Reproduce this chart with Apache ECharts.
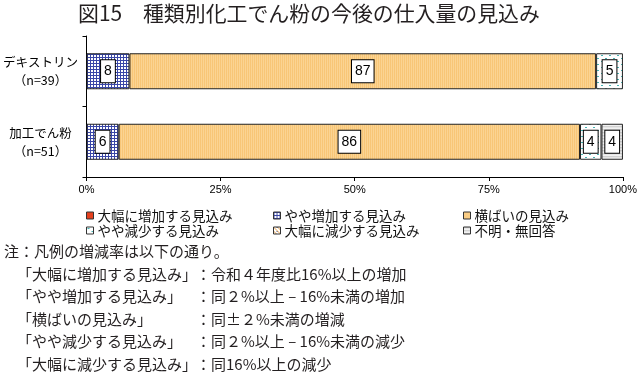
<!DOCTYPE html>
<html>
<head>
<meta charset="utf-8">
<script src="https://cdn.jsdelivr.net/npm/echarts@6/dist/echarts.min.js"></script>
<style>
html,body{margin:0;padding:0;background:#fff;}
#chart{width:640px;height:374px;}
</style>
</head>
<body>
<div id="chart"></div>
<script>
// ---- data ----
const titleText = '図15　種類別化工でん粉の今後の仕入量の見込み';
const categories = ['デキストリン', '加工でん粉'];
const sampleSizes = ['（n=39）', '（n=51）'];
const seriesNames = ['大幅に増加する見込み', 'やや増加する見込み', '横ばいの見込み', 'やや減少する見込み', '大幅に減少する見込み', '不明・無回答'];
const valsLargeIncrease = [0, 0];
const valsSlightIncrease = [8, 6];
const valsFlat = [87, 86];
const valsSlightDecrease = [5, 4];
const valsLargeDecrease = [0, 0];
const valsUnknown = [0, 4];
const xTickLabels = ['0%', '25%', '50%', '75%', '100%'];
const noteHeader = '注：凡例の増減率は以下の通り。';
const noteTerms = ['「大幅に増加する見込み」', '「やや増加する見込み」', '「横ばいの見込み」', '「やや減少する見込み」', '「大幅に減少する見込み」'];
const noteDefs = ['：令和４年度比16%以上の増加', '：同２%以上 – 16%未満の増加', '：同±２%未満の増減', '：同２%以上 – 16%未満の減少', '：同16%以上の減少'];

// ---- patterns ----
function pat(w, h, draw) {
  const c = document.createElement('canvas');
  c.width = w; c.height = h;
  const g = c.getContext('2d');
  draw(g);
  return { image: c, repeat: 'repeat' };
}
const fillRed = '#e5401e';
const fillBlueGrid = pat(3, 3, g => {
  g.fillStyle = '#ffffff'; g.fillRect(0, 0, 3, 3);
  g.fillStyle = '#3a47a8'; g.fillRect(0, 0, 3, 1); g.fillRect(0, 0, 1, 3);
});
const fillOrange = pat(2, 1, g => {
  g.fillStyle = '#f8c677'; g.fillRect(0, 0, 1, 1);
  g.fillStyle = '#fbd493'; g.fillRect(1, 0, 1, 1);
});
const fillTealDots = pat(8, 6, g => {
  g.fillStyle = '#ffffff'; g.fillRect(0, 0, 8, 6);
  g.fillStyle = '#48b4b4'; g.fillRect(1, 1, 2, 1); g.fillRect(5, 4, 2, 1);
});
const fillHatch = pat(4, 4, g => {
  g.fillStyle = '#ffffff'; g.fillRect(0, 0, 4, 4);
  g.fillStyle = '#e9a24a';
  for (let i = 0; i < 4; i++) g.fillRect(i, i, 1, 1);
  g.fillStyle = '#5a6fb0'; g.fillRect(3, 0, 1, 1);
});
const fillGray = pat(1, 3, g => {
  g.fillStyle = '#d2d2d2'; g.fillRect(0, 0, 1, 1);
  g.fillStyle = '#e6e6e6'; g.fillRect(0, 1, 1, 1);
  g.fillStyle = '#f2f2f2'; g.fillRect(0, 2, 1, 1);
});
const fills = [fillRed, fillBlueGrid, fillOrange, fillTealDots, fillHatch, fillGray];
const allVals = [valsLargeIncrease, valsSlightIncrease, valsFlat, valsSlightDecrease, valsLargeDecrease, valsUnknown];

const JP = "'Noto Sans CJK JP', sans-serif";
const NUM = "'Liberation Sans', Arial, sans-serif";

const series = seriesNames.map((name, i) => ({
  name: name,
  type: 'bar',
  stack: 'total',
  barWidth: 36,
  data: allVals[i].map(v => v === 0 ? '-' : v),
  itemStyle: { color: fills[i], borderColor: '#222', borderWidth: 1 },
  label: {
    show: true,
    position: 'inside',
    formatter: p => String(p.value),
    backgroundColor: '#fff',
    borderColor: '#000',
    borderWidth: 1,
    padding: [4, 3, 4, 3],
    lineHeight: 14,
    fontSize: 14,
    color: '#000',
    fontFamily: NUM
  },
  emphasis: { disabled: true }
}));

const legendCommon = {
  orient: 'vertical',
  itemWidth: 7,
  itemHeight: 7,
  itemGap: 0,
  icon: 'rect',
  padding: 0,
  itemStyle: { borderColor: '#333', borderWidth: 1 },
  textStyle: { fontSize: 13.5, lineHeight: 15, color: '#111', fontFamily: JP, padding: [0, 0, 0, -1] }
};

const graphics = [];
const noteY0 = 251.5;
const notePitch = 22.5;
graphics.push({ type: 'text', left: 4, top: noteY0 - 7.5, style: { text: noteHeader, font: '15px ' + JP, fill: '#231f20' } });
noteTerms.forEach((t, k) => {
  const y = noteY0 + notePitch * (k + 1) - 7.5;
  graphics.push({ type: 'text', left: 17, top: y, style: { text: t, font: '15px ' + JP, fill: '#231f20' } });
  graphics.push({ type: 'text', left: 196, top: y, style: { text: noteDefs[k], font: '15px ' + JP, fill: '#231f20' } });
});

const chart = echarts.init(document.getElementById('chart'), null, { renderer: 'canvas' });
chart.setOption({
  animation: false,
  backgroundColor: '#fff',
  title: {
    text: titleText,
    left: 78,
    top: 3,
    padding: 0,
    textStyle: { fontSize: 20.9, fontWeight: 'normal', color: '#231f20', fontFamily: JP }
  },
  grid: { left: 84, right: 14, top: 36, bottom: 197, containLabel: false },
  xAxis: {
    type: 'value',
    min: 0,
    max: 100,
    interval: 25,
    axisLine: { show: true, lineStyle: { color: '#000', width: 1 } },
    axisTick: { show: true, length: 4, lineStyle: { color: '#000' } },
    splitLine: { show: false },
    axisLabel: {
      margin: 7,
      fontSize: 11,
      color: '#000',
      fontFamily: NUM,
      formatter: (v) => xTickLabels[Math.round(v / 25)]
    }
  },
  yAxis: {
    type: 'category',
    inverse: true,
    data: categories,
    axisLine: { show: true, lineStyle: { color: '#000', width: 1 } },
    axisTick: { show: true, length: 4, lineStyle: { color: '#000' } },
    axisLabel: {
      margin: 46,
      align: 'center',
      fontSize: 12.5,
      lineHeight: 18,
      color: '#000',
      fontFamily: JP,
      formatter: (v, i) => v + '\n' + sampleSizes[i]
    }
  },
  legend: [
    Object.assign({}, legendCommon, { left: 86, top: 208, data: [seriesNames[0], seriesNames[3]] }),
    Object.assign({}, legendCommon, { left: 273, top: 208, data: [seriesNames[1], seriesNames[4]] }),
    Object.assign({}, legendCommon, { left: 463, top: 208, data: [seriesNames[2], seriesNames[5]] })
  ],
  series: series,
  graphic: graphics
});
</script>
</body>
</html>
